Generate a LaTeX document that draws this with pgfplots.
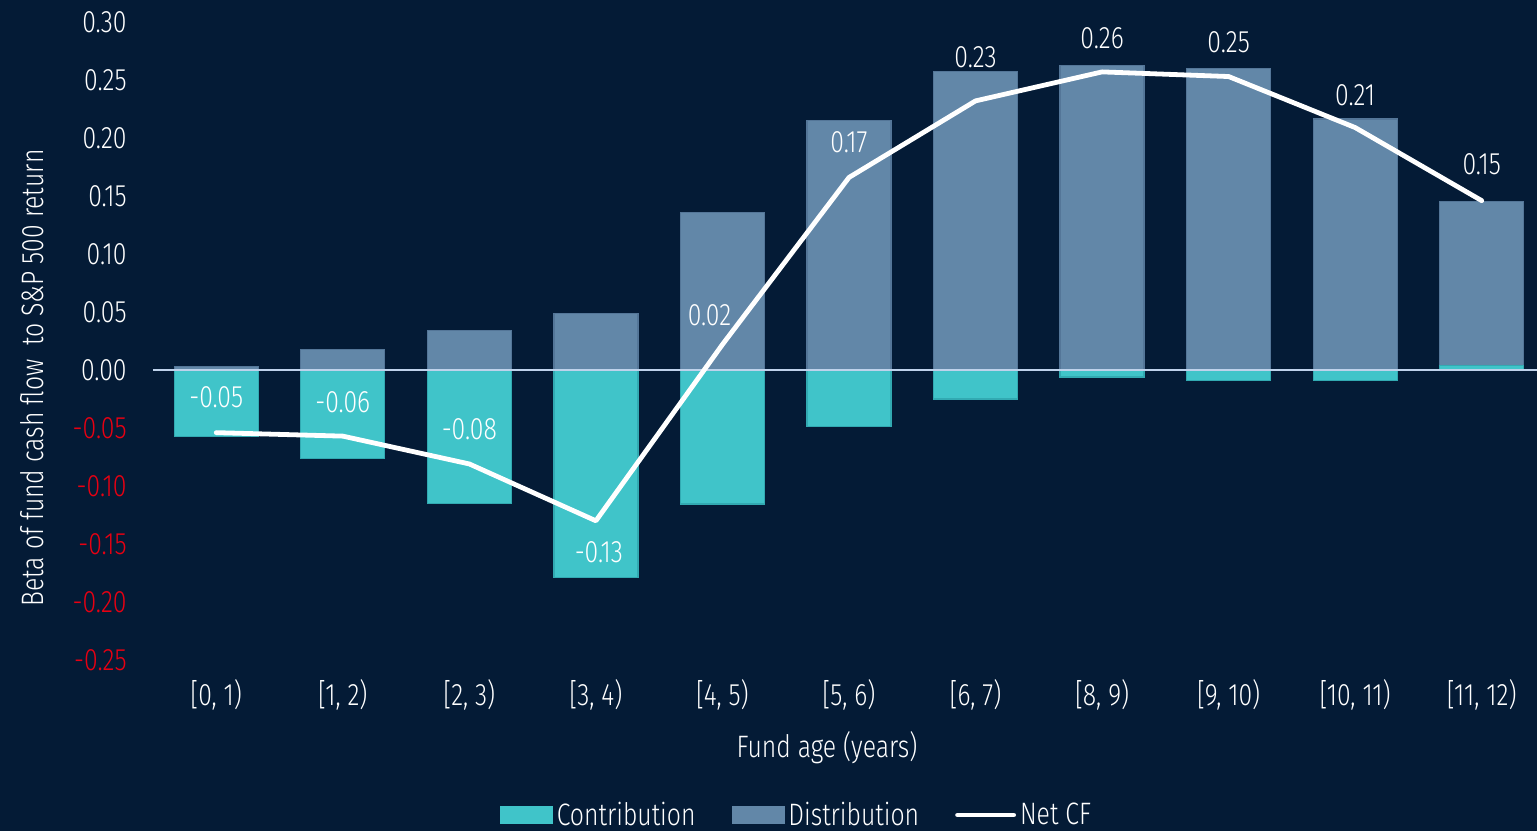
\documentclass[border=0pt]{standalone}
\usepackage{pgfplots}
\pgfplotsset{compat=1.18}
\usepackage{pgfplotstable}
\usepackage{fontspec}
\setmainfont{Fira Sans}[UprightFont=* Light, FakeStretch=0.8]

\definecolor{bg}{RGB}{4,27,54}
\definecolor{contrib}{RGB}{64,196,201}
\definecolor{contribedge}{RGB}{50,170,178}
\definecolor{distrib}{RGB}{98,135,168}
\definecolor{distribedge}{RGB}{84,118,152}
\definecolor{zeroline}{RGB}{190,210,235}
\definecolor{negred}{RGB}{232,0,18}
\newcommand\fs{\fontsize{15.5}{18}\selectfont}

% cash-flow betas by fund age bucket; dx/dy place the value labels (pt)
\pgfplotstableread{
x  dist   contrib  net     dx    dy
0  0.003  -0.057   -0.054  0     17.5
1  0.018  -0.076   -0.057  0     17
2  0.034  -0.115   -0.081  0     17.5
3  0.049  -0.179   -0.130  1.5   -15.5
4  0.136  -0.1155   0.022  -6.5  14.5
5  0.215  -0.049    0.166  0     17.5
6  0.257  -0.025    0.232  0     22
7  0.2626 -0.006    0.257  0     17
8  0.260  -0.009    0.253  0     17
9  0.2164 -0.009    0.209  0     16
10 0.145   0.004    0.146  0     18
}\cfdata

\begin{document}
\begin{tikzpicture}[font=\fs]
\fill[bg] (-76.5pt,-85.5pt) rectangle (692pt,330pt);
\path[use as bounding box] (-76.5pt,-85.5pt) rectangle (692pt,330pt);
\begin{axis}[
  at={(0pt,0pt)}, anchor=south west,
  scale only axis, width=696pt, height=319pt,
  xmin=-0.5, xmax=10.5, ymin=-0.25, ymax=0.30,
  axis line style={draw=none},
  major tick length=0pt,
  xtick={0,1,2,3,4,5,6,7,8,9,10},
  xticklabels={{[0, 1)},{[1, 2)},{[2, 3)},{[3, 4)},{[4, 5)},{[5, 6)},{[6, 7)},{[8, 9)},{[9, 10)},{[10, 11)},{[11, 12)}},
  ytick={-0.25,-0.2,-0.15,-0.1,-0.05,0,0.05,0.1,0.15,0.2,0.25,0.3},
  yticklabels={\textcolor{negred}{-0.25},\textcolor{negred}{-0.20},\textcolor{negred}{-0.15},\textcolor{negred}{-0.10},\textcolor{negred}{-0.05},0.00,0.05,0.10,0.15,0.20,0.25,0.30},
  ticklabel style={font=\fs, text=white},
  yticklabel style={anchor=east, inner sep=0pt, xshift=-13pt},
  xticklabel style={anchor=center, inner sep=0pt, yshift=-17.5pt},
  legend columns=3,
  legend style={at={(0.463,-0.243)}, anchor=center, draw=none, fill=none,
    text=white, font=\fs, inner sep=0pt,
    /tikz/every even column/.append style={column sep=16pt}},
  clip=false,
]
% legend swatches for the two bar series
\addlegendimage{legend image code/.code={\fill[contrib] (0pt,-4.25pt) rectangle (26pt,4.25pt);}}
\addlegendimage{legend image code/.code={\fill[distrib] (0pt,-4.25pt) rectangle (26pt,4.25pt);}}
\addplot[ybar, bar width=42pt, bar shift=0pt, fill=distrib, draw=distribedge, line width=0.6pt, forget plot]
  table[x=x, y=dist] {\cfdata};
\addplot[ybar, bar width=42pt, bar shift=0pt, fill=contrib, draw=contribedge, line width=0.6pt, forget plot]
  table[x=x, y=contrib] {\cfdata};
\addplot[zeroline, line width=1pt, forget plot] coordinates {(-0.5,0) (10.5,0)};
\addplot[white, line width=2.4pt, line cap=round, line join=round, mark=none,
  legend image code/.code={\draw[white, line width=2.4pt] (0pt,0pt) -- (28pt,0pt);},
  point meta=y,
  visualization depends on={\thisrow{dx} \as \labeldx},
  visualization depends on={\thisrow{dy} \as \labeldy},
  nodes near coords={\pgfmathprintnumber[fixed,fixed zerofill,precision=2,assume math mode=true]{\pgfplotspointmeta}},
  every node near coord/.append style={anchor=center, inner sep=0pt, text=white, font=\fs,
    xshift=\labeldx pt, yshift=\labeldy pt}]
  table[x=x, y=net] {\cfdata};
\legend{Contribution, Distribution, Net CF}
\end{axis}
\node[rotate=90, text=white] at (-60.5pt,141pt) {Beta of fund cash flow\ \ to S\&P 500 return};
\node[text=white] at (337pt,-44pt) {Fund age (years)};
\end{tikzpicture}
\end{document}
